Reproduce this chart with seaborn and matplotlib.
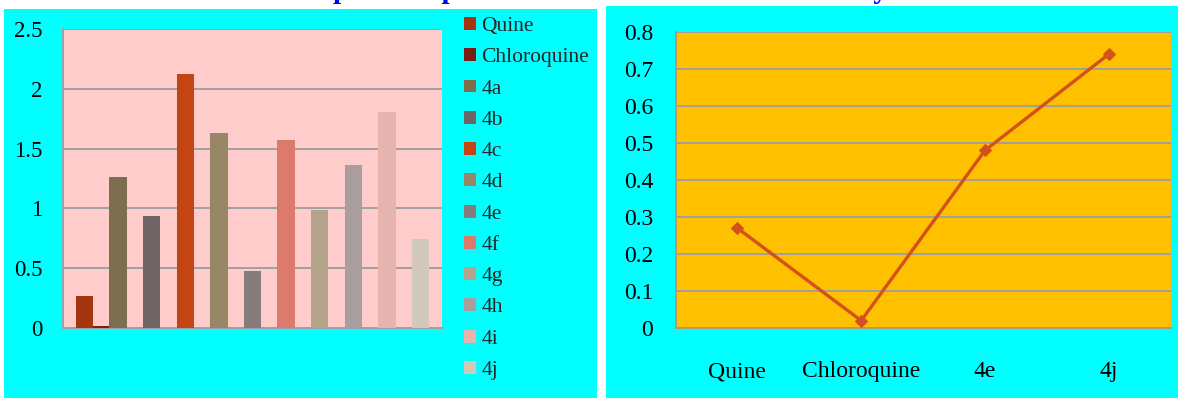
import numpy as np
import pandas as pd
import matplotlib
matplotlib.use("Agg")
import matplotlib.pyplot as plt
from matplotlib.patches import Rectangle, Patch
import seaborn as sns

# ---- data -------------------------------------------------------------
compounds = ["Quine", "Chloroquine", "4a", "4b", "4c", "4d",
             "4e", "4f", "4g", "4h", "4i", "4j"]
potency = [0.27, 0.02, 1.26, 0.94, 2.12, 1.63, 0.48, 1.57, 0.99, 1.36, 1.81, 0.74]

selected = ["Quine", "Chloroquine", "4e", "4j"]
selected_values = [0.27, 0.02, 0.48, 0.74]

bar_yticks = [0, 0.5, 1, 1.5, 2, 2.5]
bar_yticklabels = ["0", "0.5", "1", "1.5", "2", "2.5"]
line_yticks = [0, 0.1, 0.2, 0.3, 0.4, 0.5, 0.6, 0.7, 0.8]
line_yticklabels = ["0", "0.1", "0.2", "0.3", "0.4", "0.5", "0.6", "0.7", "0.8"]

title_text = "Graphical representation of antimalarial activity"

# ---- styling ----------------------------------------------------------
bar_colors = ["#A5350F", "#7A1E14", "#7E6E50", "#6F6565", "#C54414", "#988766",
              "#877B7B", "#DC7A6B", "#B4A58A", "#A89E9E", "#E6B4AE", "#D2C8BC"]
cyan = "#00FFFF"
pink = "#FFCCCC"
amber = "#FFC000"
grid_gray = "#A0A0A0"
line_color = "#D4501C"

sns.set_style("white")
plt.rcParams["font.family"] = ["Liberation Serif", "DejaVu Serif"]

W, H = 1178, 399
fig = plt.figure(figsize=(W / 100, H / 100), dpi=100, facecolor="white")

def fx(px):
    return px / W

def fy(py):
    return (H - py) / H

# cyan panel backgrounds
fig.add_artist(Rectangle((fx(4), fy(398)), fx(597) - fx(4), fy(9) - fy(398),
                         transform=fig.transFigure, facecolor=cyan,
                         edgecolor="none", zorder=-5))
fig.add_artist(Rectangle((fx(606), fy(398)), fx(1178) - fx(606), fy(6) - fy(398),
                         transform=fig.transFigure, facecolor=cyan,
                         edgecolor="none", zorder=-5))

# title, baseline sitting just above the top edge
fig.text(fx(585.5), 1.004, title_text, ha="center", va="baseline",
         fontsize=21, fontweight="bold", color="#0000FF")

# ---- left: bar chart --------------------------------------------------
ax1 = fig.add_axes([fx(63), fy(328), fx(442) - fx(63), fy(29) - fy(328)])
ax1.set_facecolor(pink)

# slot layout: the reference compound pair shares the first slot
slots = np.concatenate([[0.0, 0.5], np.arange(1, len(compounds) - 1)])
df = pd.DataFrame({"slot": slots, "compound": compounds, "value": potency})
sns.barplot(data=df, x="slot", y="value", hue="compound",
            hue_order=compounds, palette=bar_colors, native_scale=True,
            width=1.04, saturation=1, dodge=False, legend=False,
            errorbar=None, ax=ax1, zorder=3)
for p in ax1.patches:
    p.set_edgecolor("none")

ax1.set_xlim(-0.64, 10.64)
ax1.set_ylim(0, 2.5)
ax1.set_yticks(bar_yticks)
ax1.set_yticklabels(bar_yticklabels)
ax1.set_xticks([])
ax1.set_xlabel("")
ax1.set_ylabel("")
ax1.grid(axis="y", color=grid_gray, linewidth=1.4, zorder=1)
ax1.set_axisbelow(True)
for s in ["top", "right"]:
    ax1.spines[s].set_visible(False)
for s in ["left", "bottom"]:
    ax1.spines[s].set_color(grid_gray)
    ax1.spines[s].set_linewidth(1.4)
ax1.tick_params(axis="y", direction="out", length=4.3, width=1.2,
                color=grid_gray, pad=10.5, labelsize=16.5, labelcolor="black")

handles = [Patch(facecolor=c, edgecolor="none") for c in bar_colors]
fig.legend(handles, compounds, loc="upper left",
           bbox_to_anchor=(fx(464), fy(17)), frameon=False,
           fontsize=15.5, handlelength=0.55, handleheight=0.55,
           handletextpad=0.25, labelspacing=0.565, borderpad=0,
           borderaxespad=0)

# ---- right: line chart ------------------------------------------------
ax2 = fig.add_axes([fx(675.5), fy(328), fx(1170.7) - fx(675.5), fy(32) - fy(328)])
ax2.set_facecolor(amber)
sns.lineplot(x=selected, y=selected_values, sort=False, marker="D",
             markersize=6, color=line_color, markeredgecolor=line_color,
             linewidth=2.4, ax=ax2, zorder=3)
ax2.set_xlim(-0.5, 3.5)
ax2.set_ylim(0, 0.8)
ax2.set_yticks(line_yticks)
ax2.set_yticklabels(line_yticklabels)
ax2.grid(axis="y", color=grid_gray, linewidth=1.4, zorder=1)
ax2.grid(axis="x", visible=False)
ax2.set_axisbelow(True)
for s in ["top", "right"]:
    ax2.spines[s].set_visible(False)
for s in ["left", "bottom"]:
    ax2.spines[s].set_color("#B09870")
    ax2.spines[s].set_linewidth(1.4)
ax2.tick_params(axis="y", length=0, pad=16, labelsize=17, labelcolor="black")
ax2.tick_params(axis="x", length=0, pad=24, labelsize=17, labelcolor="black")
ax2.set_xlabel("")
ax2.set_ylabel("")

fig.savefig("out.png", dpi=100, facecolor="white")
